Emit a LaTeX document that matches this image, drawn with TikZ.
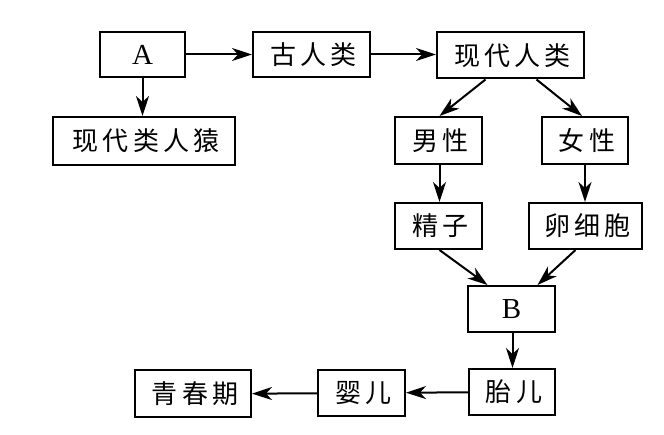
\documentclass[tikz,border=0pt]{standalone}
\usepackage{fontspec}
\newfontfamily\cjk[LetterSpace=16]{Noto Sans CJK SC}
\setmainfont{Liberation Serif}
\usetikzlibrary{arrows.meta}
\begin{document}
\begin{tikzpicture}[x=1pt,y=-1pt,
  box/.style={draw,line width=2pt,inner sep=0pt,font=\cjk\fontsize{26}{26}\selectfont},
  lat/.style={font=\fontsize{29}{29}\selectfont},
  arr/.style={line width=2pt,-{Stealth[length=20pt,width=13pt,inset=6pt]}}]
\useasboundingbox (0,0) rectangle (664,435);
\node[box,lat,minimum width=85pt,minimum height=45pt] (A) at (142.5,54.5) {A};
\node[box,minimum width=117pt,minimum height=45pt] (gu) at (311.5,54.5) {\hspace*{4pt}古人类};
\node[box,minimum width=147pt,minimum height=46pt] (xd) at (510.5,55.5) {\hspace*{4pt}现代人类};
\node[box,minimum width=182pt,minimum height=48pt] (yuan) at (144,141) {\hspace*{4pt}现代类人猿};
\node[box,minimum width=87pt,minimum height=47pt] (nan) at (438.5,140.5) {\hspace*{4pt}男性};
\node[box,minimum width=86pt,minimum height=47pt] (nv) at (585,140.5) {\hspace*{4pt}女性};
\node[box,minimum width=87pt,minimum height=46pt] (jz) at (438.5,226) {\hspace*{4pt}精子};
\node[box,minimum width=113pt,minimum height=46pt] (lxb) at (585.5,226) {\hspace*{4pt}卵细胞};
\node[box,lat,minimum width=87pt,minimum height=46pt] (B) at (511.5,309) {B};
\node[box,minimum width=86pt,minimum height=46pt] (te) at (512,392) {\hspace*{4pt}胎儿};
\node[box,minimum width=87pt,minimum height=46pt] (ye) at (361.5,393) {\hspace*{4pt}婴儿};
\node[box,minimum width=116pt,minimum height=47pt] (qcq) at (193,394) {\hspace*{4pt}青春期};
\draw[arr] (A) -- (gu);
\draw[arr] (gu) -- (gu -| xd.west);
\draw[arr] (A.south) -- (A.south |- yuan.north);
\draw[arr] ([xshift=-25pt]xd.south) -- ([xshift=1pt]nan.north);
\draw[arr] ([xshift=26pt]xd.south) -- ([xshift=-3pt]nv.north);
\draw[arr] ([xshift=1pt]nan.south) -- ([xshift=1pt]jz.north);
\draw[arr] (nv.south) -- (nv.south |- lxb.north);
\draw[arr] ([xshift=1pt]jz.south) -- ([xshift=-24pt]B.north);
\draw[arr] ([xshift=-10pt]lxb.south) -- ([xshift=26pt]B.north);
\draw[arr] ([xshift=1pt]B.south) -- ([xshift=1pt]B.south |- te.north);
\draw[arr] (te) -- (ye);
\draw[arr] (ye) -- (qcq);
\end{tikzpicture}
\end{document}
